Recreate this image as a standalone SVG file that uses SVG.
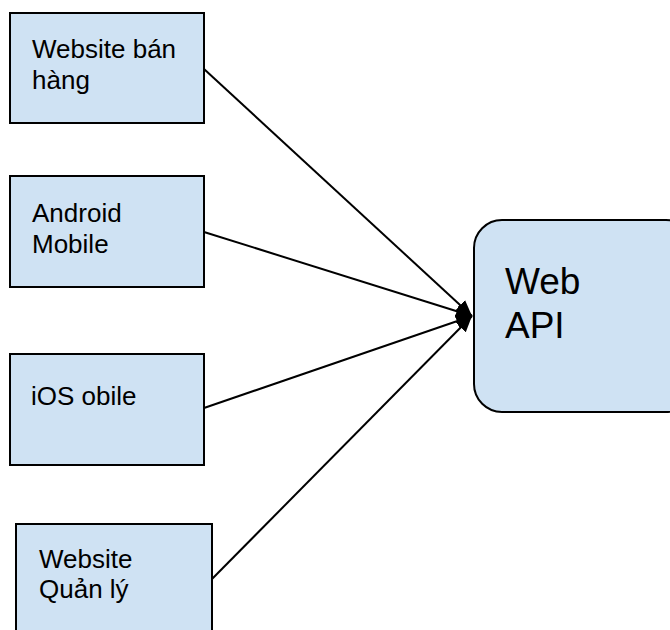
<svg xmlns="http://www.w3.org/2000/svg" width="670" height="630" viewBox="0 0 670 630">
<style>
.box{fill:#cfe2f3;stroke:#000;stroke-width:2}
.t{font-family:"Liberation Sans",Arial,sans-serif;font-size:26px;fill:#000}
.big{font-size:37px}
.c{stroke:#000;stroke-width:2;fill:none;marker-end:url(#ah)}
</style>
<defs>
<marker id="ah" markerUnits="userSpaceOnUse" markerWidth="18" markerHeight="14" refX="16" refY="7" orient="auto">
<path d="M0,0 L16,7 L0,14 Z" fill="#000"/>
</marker>
</defs>
<rect width="670" height="630" fill="#fff"/>
<g id="connectors">
<line class="c" x1="204" y1="69" x2="472" y2="316"/>
<line class="c" x1="204" y1="232" x2="472" y2="316"/>
<line class="c" x1="204" y1="408" x2="472" y2="316"/>
<line class="c" x1="212" y1="579" x2="472" y2="316"/>
</g>
<g id="website-ban-hang">
<rect class="box" x="10" y="13" width="194" height="110"/>
<text class="t" x="32" y="58">Website bán</text>
<text class="t" x="32" y="89">hàng</text>
</g>
<g id="android-mobile">
<rect class="box" x="10" y="176" width="194" height="111"/>
<text class="t" x="32" y="222">Android</text>
<text class="t" x="32" y="253">Mobile</text>
</g>
<g id="ios-mobile">
<rect class="box" x="10" y="354" width="194" height="111"/>
<text class="t" x="31" y="405">iOS obile</text>
</g>
<g id="website-quan-ly">
<rect class="box" x="16" y="524" width="196" height="120"/>
<text class="t" x="39" y="568">Website</text>
<text class="t" x="39" y="598">Quản lý</text>
</g>
<g id="web-api">
<rect class="box" x="474" y="220" width="220" height="192" rx="28" ry="28"/>
<text class="t big" x="505" y="294">Web</text>
<text class="t big" x="505" y="338">API</text>
</g>
</svg>
